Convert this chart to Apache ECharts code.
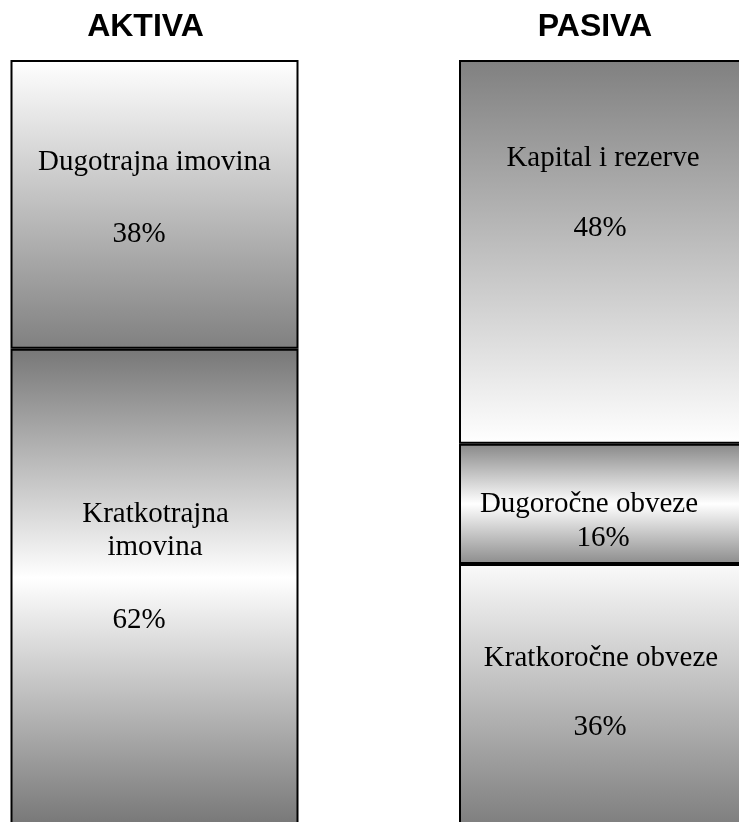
<!DOCTYPE html>
<html><head><meta charset="utf-8">
<script src="https://cdn.jsdelivr.net/npm/echarts@6/dist/echarts.min.js"></script>
<style>html,body{margin:0;padding:0;background:#fff;overflow:hidden;}#c{width:739px;height:822px;}</style>
</head><body><div id="c"></div>
<script>
// ---- data ----
const columnTitles = ['AKTIVA', 'PASIVA'];
const aktivaNames = ['Dugotrajna imovina', 'Kratkotrajna\nimovina'];
const aktivaPercents = ['38%', '62%'];
const aktivaHeights = [37.7, 62.3];          // drawn share of the column
const pasivaNames = ['Kapital i rezerve', 'Dugoročne obveze', 'Kratkoročne obveze'];
const pasivaPercents = ['48%', '16%', '36%'];
const pasivaHeights = [50.1, 15.7, 34.2];    // drawn share of the column

// ---- styles ----
const serif = 'Liberation Serif, Times New Roman, serif';
const G = (stops) => new echarts.graphic.LinearGradient(0, 0, 0, 1,
  stops.map(s => ({ offset: s[0], color: s[1] })));
const aktivaFills = [
  G([[0, '#ffffff'], [1, '#808080']]),
  G([[0, '#777777'], [0.48, '#ffffff'], [1, '#777777']])
];
const pasivaFills = [
  G([[0, '#808080'], [1, '#ffffff']]),
  G([[0, '#888888'], [0.5, '#ffffff'], [1, '#8c8c8c']]),
  G([[0, '#fafafa'], [1, '#7e7e7e']])
];
// per-line layout: horizontal shift from bar centre, vertical centre from segment top
const aktivaLayout = [
  [{ dx: 0, cy: 102 }, { dx: -15.5, cy: 174 }],
  [{ dx: 1, cy: 166 }, { dx: 0.5, cy: 199 }, { dx: -15.5, cy: 272 }]
];
const pasivaLayout = [
  [{ dx: 0, cy: 98 }, { dx: -3, cy: 168 }],
  [{ dx: -14, cy: 61 }, { dx: 0, cy: 94.5 }],
  [{ dx: -2, cy: 94 }, { dx: -3, cy: 163 }]
];

function makeLabel(text, lay) {
  const lines = text.split('\n');
  let top = lay[0].cy - 17;
  const y0 = top;
  const rich = {};
  const parts = [];
  lines.forEach((ln, i) => {
    const spec = lay[i];
    const h = i === 0 ? 34 : 2 * (spec.cy - top);
    rich['l' + i] = {
      fontFamily: serif, fontSize: 29, color: '#000', lineHeight: h, align: 'center',
      padding: [0, spec.dx < 0 ? -2 * spec.dx : 0, 0, spec.dx > 0 ? 2 * spec.dx : 0]
    };
    parts.push('{l' + i + '|' + ln + '}');
    top += h;
  });
  const str = parts.join('\n');
  return {
    show: true, position: [144, y0], align: 'center', verticalAlign: 'top',
    color: '#000', textBorderWidth: 0, fontFamily: serif, fontSize: 29,
    formatter: () => str, rich
  };
}

const series = [];
aktivaHeights.forEach((v, i) => {
  series.push({
    type: 'bar', xAxisIndex: 0, yAxisIndex: 0, stack: 'aktiva', barWidth: '100%', clip: false,
    data: [{
      value: v,
      itemStyle: { color: aktivaFills[i], borderColor: '#000', borderWidth: 2 },
      label: makeLabel(aktivaNames[i] + '\n' + aktivaPercents[i], aktivaLayout[i])
    }]
  });
});
pasivaHeights.forEach((v, i) => {
  series.push({
    type: 'bar', xAxisIndex: 1, yAxisIndex: 1, stack: 'pasiva', barWidth: '100%', clip: false,
    data: [{
      value: v,
      itemStyle: { color: pasivaFills[i], borderColor: '#000', borderWidth: 2 },
      label: makeLabel(pasivaNames[i] + '\n' + pasivaPercents[i], pasivaLayout[i])
    }]
  });
});

const chart = echarts.init(document.getElementById('c'), null, { renderer: 'canvas' });
chart.setOption({
  animation: false,
  backgroundColor: '#fff',
  grid: [
    { left: 10.5, top: 60, width: 288, height: 766, outerBoundsMode: 'none', containLabel: false },
    { left: 459, top: 60, width: 288, height: 766, outerBoundsMode: 'none', containLabel: false }
  ],
  xAxis: [
    { type: 'category', gridIndex: 0, data: [columnTitles[0]], show: false },
    { type: 'category', gridIndex: 1, data: [columnTitles[1]], show: false }
  ],
  yAxis: [
    { type: 'value', gridIndex: 0, min: 0, max: 100, inverse: true, show: false },
    { type: 'value', gridIndex: 1, min: 0, max: 100, inverse: true, show: false }
  ],
  graphic: [
    { type: 'text', x: 145.5, y: 27, style: { text: columnTitles[0], fontFamily: 'Liberation Sans, Arial, sans-serif', fontWeight: 'bold', fontSize: 32, fill: '#000', align: 'center', verticalAlign: 'middle' } },
    { type: 'text', x: 595, y: 27, style: { text: columnTitles[1], fontFamily: 'Liberation Sans, Arial, sans-serif', fontWeight: 'bold', fontSize: 32, fill: '#000', align: 'center', verticalAlign: 'middle' } }
  ],
  series
});
</script>
</body></html>
